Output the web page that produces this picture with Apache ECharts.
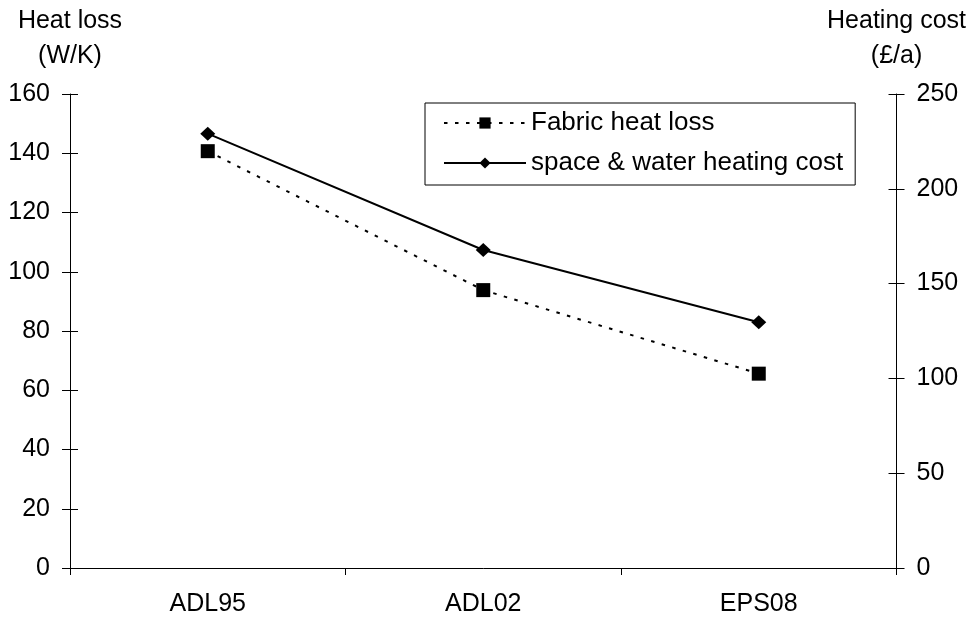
<!DOCTYPE html>
<html><head><meta charset="utf-8">
<script src="https://cdn.jsdelivr.net/npm/echarts@6/dist/echarts.min.js"></script>
<style>html,body{margin:0;padding:0;background:#fff}#c{width:969px;height:621px}</style>
</head><body><div id="c"></div>
<script>
const categories = ['ADL95', 'ADL02', 'EPS08'];
const fabricHeatLoss = [140.7, 93.8, 65.6];
const heatingCost = [229.1, 167.7, 129.6];
const leftName = 'Heat loss\n(W/K)';
const rightName = 'Heating cost\n(£/a)';
const seriesNames = ['Fabric heat loss', 'space & water heating cost'];

const FONT = 'Liberation Sans, Arial, sans-serif';
const FS = 25;
const black = '#000';

function yAx(pos, min, max, interval, name, tickInside, main) {
  return {
    type: 'value', position: pos, min: min, max: max, interval: interval,
    name: main ? name : '', nameLocation: 'end', nameGap: 20,
    nameTextStyle: {color: black, fontFamily: FONT, fontSize: FS, lineHeight: 35, align: 'center'},
    axisLine: {show: main, lineStyle: {color: black, width: 1}},
    axisTick: {show: true, inside: tickInside, length: 8, lineStyle: {color: black, width: 1}},
    axisLabel: {show: main, color: black, fontFamily: FONT, fontSize: FS, margin: 20},
    splitLine: {show: false}
  };
}

const chart = echarts.init(document.getElementById('c'), null, {renderer: 'canvas'});
chart.setOption({
  animation: false,
  backgroundColor: '#fff',
  grid: {left: 70, right: 72, top: 94, bottom: 53, containLabel: false},
  legend: {
    orient: 'vertical', left: 425, top: 103,
    padding: [7, 12, 9, 18], itemGap: 14,
    itemWidth: 82, itemHeight: 14,
    borderColor: black, borderWidth: 1,
    textStyle: {color: black, fontFamily: FONT, fontSize: 26, lineHeight: 24},
    data: seriesNames
  },
  xAxis: {
    type: 'category', data: categories, boundaryGap: true,
    axisLine: {lineStyle: {color: black, width: 1}},
    axisTick: {show: true, length: 7, lineStyle: {color: black}},
    axisLabel: {color: black, fontFamily: FONT, fontSize: FS, margin: 24},
    splitLine: {show: false}
  },
  yAxis: [
    yAx('left', 0, 160, 20, leftName, false, true),
    yAx('right', 0, 250, 50, rightName, false, true),
    yAx('left', 0, 160, 20, '', true, false),
    yAx('right', 0, 250, 50, '', true, false)
  ],
  series: [
    {
      name: seriesNames[0], type: 'line', yAxisIndex: 0, data: fabricHeatLoss,
      symbol: 'rect', symbolSize: 14,
      lineStyle: {color: black, width: 2, type: [3.5, 7.5]},
      itemStyle: {color: black}
    },
    {
      name: seriesNames[1], type: 'line', yAxisIndex: 1, data: heatingCost,
      symbol: 'diamond', symbolSize: [15, 14],
      lineStyle: {color: black, width: 2, type: 'solid'},
      itemStyle: {color: black}
    }
  ]
});
</script></body></html>
